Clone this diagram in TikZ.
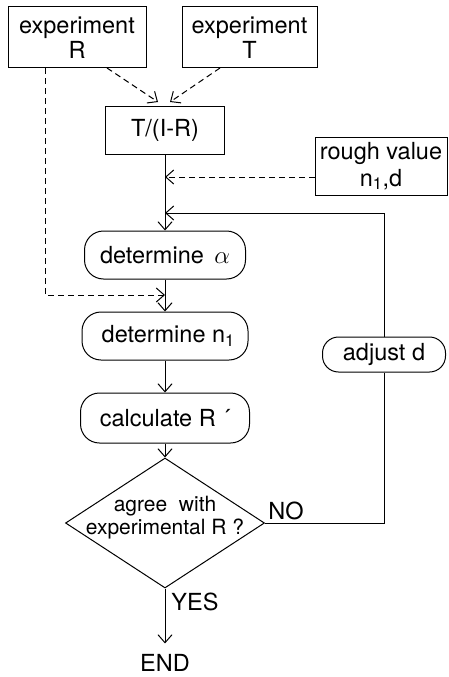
\documentclass[tikz,border=0pt]{standalone}
\usepackage{fontspec}
\setmainfont{TeX Gyre Heros}
\usetikzlibrary{shapes.geometric,arrows.meta}
\tikzset{
	every node/.style={font=\fontsize{23.5}{25}\selectfont, inner sep=0.75pt},
	databox/.style={draw, rectangle, align=center, line width=1pt},
	procbox/.style={draw, rectangle, rounded corners=19pt, line width=1pt},
	decision/.style={draw, diamond, aspect=1.53, inner sep=0pt, line width=1pt},
	flow/.style={line width=1pt, -{Straight Barb[length=8pt,width=14pt]}},
	dataflow/.style={flow, dash pattern=on 6pt off 4pt},
}
\begin{document}
\begin{tikzpicture}[x=1pt,y=1pt,yscale=-1,xscale=1]
	\useasboundingbox (0,0) rectangle (448,677);
	
	%Shape: Rectangle [input boxes]
	\node[databox, minimum width=138pt, minimum height=61pt] (expR) at (77,37.5) {experiment\\R};
	\node[databox, minimum width=135pt, minimum height=61pt] (expT) at (249.5,37.5) {experiment\\T};
	\node[databox, minimum width=119pt, minimum height=48pt] (tir) at (165,130) {T/(I-R)};
	\node[databox, minimum width=132pt, minimum height=58pt, font=\fontsize{23.5}{27}\selectfont] (rough) at (381,166) {rough value\\n\textsubscript{1},d};
	
	%Shape: Rounded Rectangle [process steps]
	\node[procbox, minimum width=161pt, minimum height=48pt] (alpha) at (165,255) {determine \,$\alpha$};
	\node[procbox, minimum width=166pt, minimum height=48pt] (nOne) at (165,336) {\ determine n\textsubscript{1}};
	\node[procbox, minimum width=169pt, minimum height=50pt] (calc) at (165,418) {calculate R ´};
	\node[procbox, minimum width=123pt, minimum height=35pt, rounded corners=16pt] (adjust) at (384,354.5) {adjust d};
	
	%Shape: Diamond
	\node[decision, minimum width=199pt, minimum height=130pt] (agree) at (165,523) {};
	\node[align=center, font=\fontsize{21}{23}\selectfont] (agreetext) at (165,518) {agree~ with\\experimental R ?};
	
	% Text Node
	\node (yes) at (195,602) {YES};
	\node (no) at (286,511) {NO};
	\node (stop) at (165,663) {END};
	
	%Points on the main line
	\coordinate (rsrc) at (107,68);
	\coordinate (tsrc) at (220,68);
	\coordinate (rtir) at (158,102);
	\coordinate (ttir) at (170,102);
	\coordinate (rdrop) at (45,68);
	\coordinate (roughin) at (165,177);
	\coordinate (fbin) at (165,213);
	\coordinate (nin) at (165,295);
	
	%Dashed Lines
	\draw[dataflow] (rsrc) -- (rtir);
	\draw[dataflow] (tsrc) -- (ttir);
	\draw[dataflow] (rough.west |- roughin) -- (roughin);
	\draw[dataflow] (rdrop) |- (nin);
	
	%Straight Lines
	\draw[flow] (tir.south) -- (alpha.north);
	\draw[flow] (alpha.south) -- (nOne.north);
	\draw[flow] (nOne.south) -- (calc.north);
	\draw[flow] (calc.south) -- (agree.north);
	\draw[flow, shorten >=10pt] (agree.south) -- (stop.north);
	\draw[line width=1pt] (agree.east) -| (adjust.south);
	\draw[flow] (adjust.north) |- (fbin);
	
\end{tikzpicture}
\end{document}
